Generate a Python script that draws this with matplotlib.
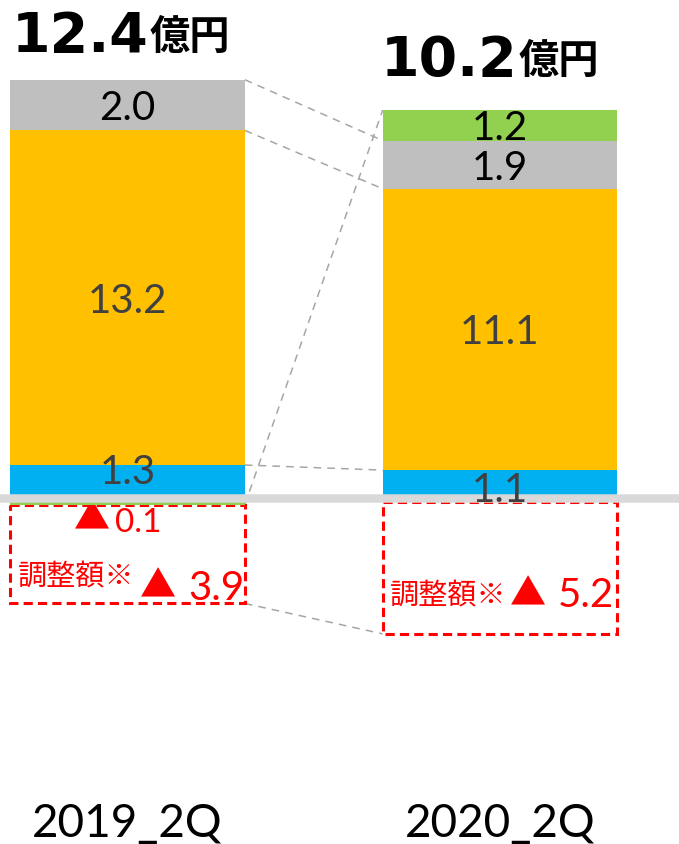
import matplotlib
matplotlib.use("Agg")
import matplotlib.pyplot as plt

DPI = 100
PX = 72 / DPI  # points per pixel

# ---- data -------------------------------------------------------------
periods = ["2019_2Q", "2020_2Q"]
total_labels = ["12.4", "10.2"]
total_unit = "億円"
blue_vals = [1.3, 1.1]
orange_vals = [13.2, 11.1]
gray_vals = [2.0, 1.9]
green_vals = [-0.1, 1.2]
adjust_vals = [-3.9, -5.2]
adjust_label = "調整額※"

# ---- style ------------------------------------------------------------
COL_BLUE = "#00B0F0"
COL_ORANGE = "#FFC000"
COL_GRAY = "#BFBFBF"
COL_GREEN = "#92D050"
RED = "#FF0000"
DARK = "#404040"
NUM_FONT = ["Lato", "DejaVu Sans"]
BOLD_NUM_FONT = ["DejaVu Sans"]
JP_FONT = ["Noto Sans CJK JP", "DejaVu Sans"]

fig = plt.figure(figsize=(6.79, 8.44), dpi=DPI)
ax = fig.add_axes([0, 0, 1, 1])
ax.set_xlim(-0.3423, 1.4805)
ax.set_ylim(-13.65, 19.645)
ax.axis("off")

x = [0, 1]
W = 0.63
NEG_START = -0.16   # negative stack starts just under the zero band


def put(txt, xi, yv, dx_px, dy_px, **kw):
    ax.annotate(txt, (xi, yv), xytext=(dx_px * PX, dy_px * PX),
                textcoords="offset points", annotation_clip=False, **kw)


# ---- stacked bars -----------------------------------------------------
pos_base = [0.0, 0.0]
neg_base = [NEG_START, NEG_START]
segments = {}
series = [
    ("blue", blue_vals, COL_BLUE, DARK),
    ("orange", orange_vals, COL_ORANGE, DARK),
    ("gray", gray_vals, COL_GRAY, "black"),
    ("green", green_vals, COL_GREEN, "black"),
]
label_shift = {"blue": [13, -3]}

for name, vals, col, tcol in series:
    bottoms = []
    for i, v in enumerate(vals):
        if v >= 0:
            bottoms.append(pos_base[i])
            pos_base[i] += v
        else:
            bottoms.append(neg_base[i])
            neg_base[i] += v
    ax.bar(x, vals, bottom=bottoms, width=W, color=col, zorder=3)
    segments[name] = [(b, b + v) for b, v in zip(bottoms, vals)]
    for i, v in enumerate(vals):
        if v < 0:
            continue
        mid = bottoms[i] + v / 2
        sh = label_shift.get(name, [0, 0])[i]
        put(f"{v:.1f}", x[i], mid, 0, -15 + sh, ha="center", va="baseline",
            fontsize=29, family=NUM_FONT, color=tcol, zorder=6)

# negative green value label
for i, v in enumerate(green_vals):
    if v < 0:
        put("▲", x[i], 0, -35.5, -31, ha="center", va="baseline",
            fontsize=26, family=JP_FONT, color=RED, zorder=2.5)
        put(f"{abs(v):.1f}", x[i], 0, -12.5, -34, ha="left", va="baseline",
            fontsize=24, family=NUM_FONT, color=RED, zorder=6)

# ---- adjustment boxes -------------------------------------------------
ax.bar(x, adjust_vals, bottom=neg_base, width=W, fill=False, edgecolor=RED,
       linewidth=2.2, linestyle=(0, (3, 1.7)), zorder=2)
adj_bottoms = [b + a for b, a in zip(neg_base, adjust_vals)]

adj_text_dy = [-87, -106]
adj_tri_dx = [30, 27.5]
adj_tri_dy = [-99, -107]
adj_num_dx = [60.5, 58]
adj_num_dy = [-102, -109]
for i, a in enumerate(adjust_vals):
    put(adjust_label, x[i], 0, -110, adj_text_dy[i], ha="left", va="baseline",
        fontsize=21, family=JP_FONT, color=RED, zorder=6)
    put("▲", x[i], 0, adj_tri_dx[i], adj_tri_dy[i], ha="center", va="baseline",
        fontsize=26, family=JP_FONT, color=RED, zorder=6)
    put(f"{abs(a):.1f}", x[i], 0, adj_num_dx[i], adj_num_dy[i], ha="left",
        va="baseline", fontsize=29, family=NUM_FONT, color=RED, zorder=6)

# ---- zero band --------------------------------------------------------
ax.axhline(0, color="#D9D9D9", linewidth=8.5 * PX, zorder=4)

# ---- connector lines --------------------------------------------------
conn = dict(color="#A6A6A6", linewidth=1.1, linestyle=(0, (5, 4)), zorder=1)
xl, xr = x[0] + W / 2, x[1] - W / 2
ax.plot([xl, xr], [segments["gray"][0][1], segments["gray"][1][1]], **conn)
ax.plot([xl, xr], [segments["orange"][0][1], segments["orange"][1][1]], **conn)
ax.plot([xl, xr], [segments["blue"][0][1], segments["blue"][1][1]], **conn)
ax.plot([xl, xr], [segments["green"][0][1], segments["green"][1][1]], **conn)
ax.plot([xl, xr], adj_bottoms, **conn)

# ---- totals -----------------------------------------------------------
tot_dx = [20.5, 17]
tot_dy = [28, 34]
for i, t in enumerate(total_labels):
    put(t, x[i], pos_base[i], tot_dx[i], tot_dy[i], ha="right", va="baseline",
        fontsize=40, family=BOLD_NUM_FONT, fontweight="bold", color="black", zorder=6)
    put(total_unit, x[i], pos_base[i], tot_dx[i] + 2, tot_dy[i] + 3, ha="left",
        va="baseline", fontsize=29, family=JP_FONT, fontweight="bold",
        color="black", zorder=6)

# ---- category labels --------------------------------------------------
for i, p in enumerate(periods):
    put(p, x[i], 0, 0, -339, ha="center", va="baseline", fontsize=33,
        family=NUM_FONT, color="black")

fig.savefig("out.png", dpi=DPI)
